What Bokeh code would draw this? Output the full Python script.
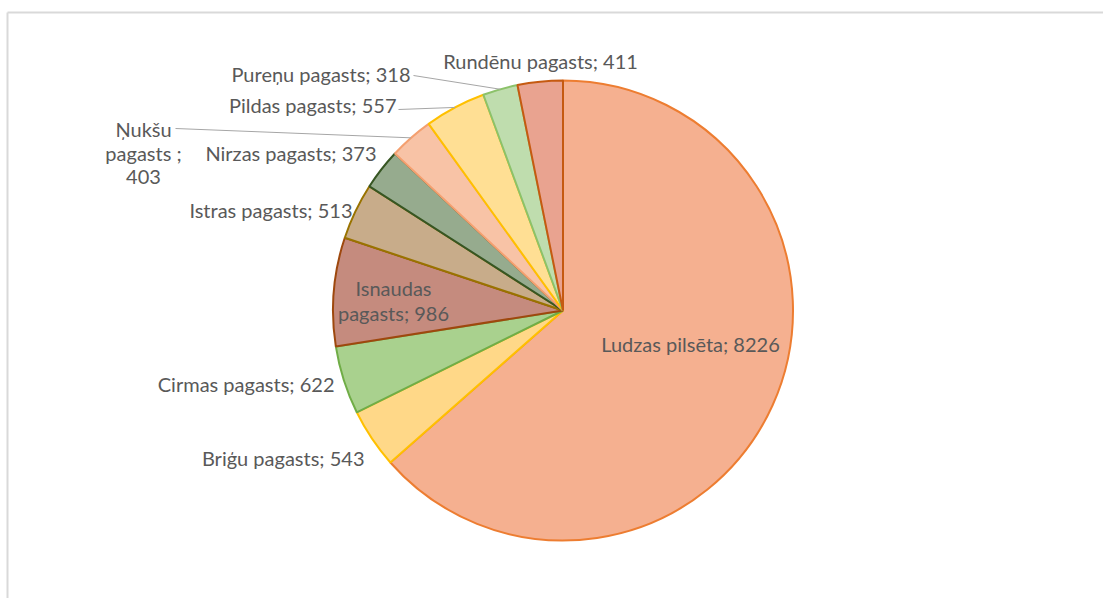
import numpy as np
from bokeh.plotting import figure
from bokeh.models import Range1d
from bokeh.core.properties import value
from bokeh.embed import file_html
from bokeh.resources import INLINE

# ---- data (clockwise from 12 o'clock) ----
names = ["Ludzas pilsēta", "Briģu pagasts", "Cirmas pagasts", "Isnaudas pagasts",
         "Istras pagasts", "Nirzas pagasts", "Ņukšu pagasts ", "Pildas pagasts",
         "Pureņu pagasts", "Rundēnu pagasts"]
values = [8226, 543, 622, 986, 513, 373, 403, 557, 318, 411]

fills = ["#F5B090", "#FFD888", "#A9D18E", "#C58B7E", "#C8AC8A",
         "#96AB8E", "#F8C3A6", "#FFDF94", "#BFDDAE", "#E9A390"]
borders = ["#ED7D31", "#FFC000", "#70AD47", "#9E480E", "#997300",
           "#375623", "#F4A070", "#FFC000", "#8CC26A", "#C55A11"]

W, H = 1103, 598
p = figure(width=W, height=H, x_range=Range1d(0, W), y_range=Range1d(-H, 0),
           output_backend="svg", toolbar_location=None, min_border=0,
           x_axis_location=None, y_axis_location=None)
p.grid.visible = False
p.outline_line_color = None
p.background_fill_color = "white"
p.border_fill_color = "white"

# chart-area frame (top and left visible)
p.line(x=[7, W + 5], y=[-12, -12], line_color="#D9D9D9", line_width=2)
p.line(x=[7, 7], y=[-12, -(H + 5)], line_color="#D9D9D9", line_width=2)

cx, cy, r = 562.5, -310.0, 230.0
total = float(sum(values))
frac = np.array(values, dtype=float) / total
cum = np.concatenate([[0.0], np.cumsum(frac)])
a_start = np.pi / 2 - cum[:-1] * 2 * np.pi
a_end = np.pi / 2 - cum[1:] * 2 * np.pi

for i in range(len(values)):
    p.wedge(x=cx, y=cy, radius=r, start_angle=a_end[i], end_angle=a_start[i],
            direction="anticlock", fill_color=fills[i], line_color=borders[i],
            line_width=2)

mid = (cum[:-1] + cum[1:]) / 2 * 2 * np.pi
ex = cx + r * np.sin(mid)
ey = cy + r * np.cos(mid)

# leader lines for Ņukšu, Pildas, Pureņu
leader_start = {6: (175, -128), 7: (398, -109), 8: (413, -75)}
for i, (sx, sy) in leader_start.items():
    p.line(x=[sx, ex[i]], y=[sy, ey[i]], line_color="#A6A6A6", line_width=1)

font = value("Lato")
fs = "20px"
col = "#595959"

labels = [f"{n}; {v}" for n, v in zip(names, values)]

# right-aligned outside labels: index -> (right x, y)
right_lbl = {1: (364, -457), 2: (334, -383), 4: (352, -209), 5: (376, -152),
             7: (396, -104), 8: (410, -73)}
for i, (x, y) in right_lbl.items():
    p.text(x=[x], y=[y], text=[labels[i]], text_align="right", text_baseline="middle",
           text_font=font, text_font_size=fs, text_color=col)

# Rundēnu (centered above)
p.text(x=[540], y=[-60], text=[labels[9]], text_align="center", text_baseline="middle",
       text_font=font, text_font_size=fs, text_color=col)

# Ludzas inside
p.text(x=[690], y=[-343], text=[labels[0]], text_align="center", text_baseline="middle",
       text_font=font, text_font_size=fs, text_color=col)

# Isnaudas inside, two lines
p.text(x=[393, 393], y=[-287, -312], text=["Isnaudas", f"pagasts; {values[3]}"],
       text_align="center", text_baseline="middle",
       text_font=font, text_font_size=fs, text_color=col)

# Ņukšu, three lines
p.text(x=[143, 143, 143], y=[-128, -152, -176],
       text=["Ņukšu", "pagasts ;", f"{values[6]}"],
       text_align="center", text_baseline="middle",
       text_font=font, text_font_size=fs, text_color=col)

open("out.html", "w").write(file_html(p, INLINE))
